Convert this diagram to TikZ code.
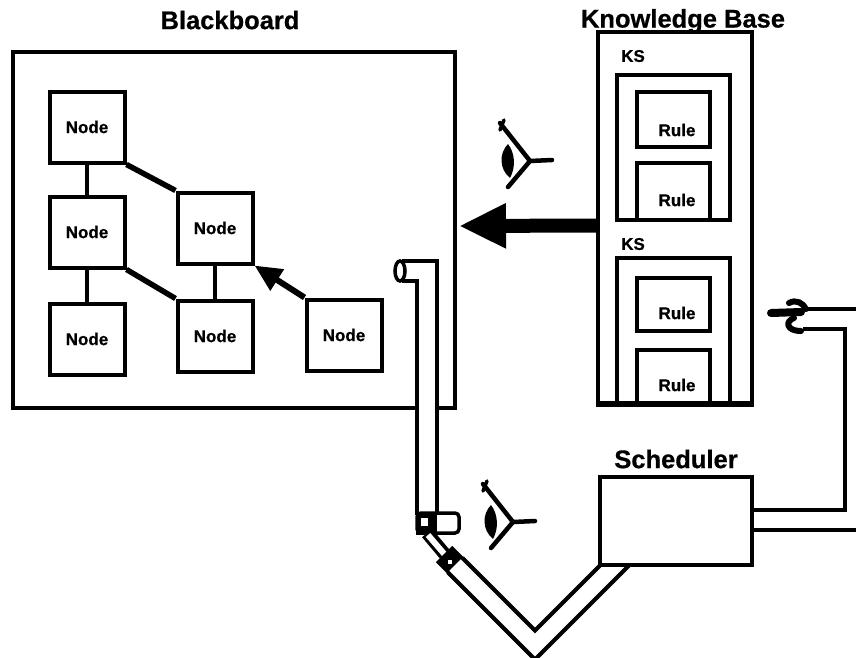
\documentclass[tikz,border=0pt]{standalone}
\usepackage{fontspec}
\setmainfont{Liberation Sans}
\newfontfamily\heavy{Liberation Sans Bold}[FakeBold=0.6]
\usetikzlibrary{arrows.meta,calc}
\begin{document}
\begin{tikzpicture}[x=1pt,y=-1pt,
  box/.style={draw, line width=4pt, fill=white, inner sep=0pt},
  nodebox/.style={box, minimum width=75pt, minimum height=71pt,
    font=\fontsize{17}{17}\selectfont\heavy},
  title/.style={font=\fontsize{25.5}{25.5}\selectfont\heavy},
  smalltext/.style={font=\fontsize{17}{17}\selectfont\heavy},
  link/.style={line width=3.5pt},
  thicklink/.style={line width=5.5pt},
  pipeout/.style={line width=24.5pt, line join=miter},
  pipein/.style={line width=16pt, white, line join=miter},
  eyeglyph/.pic={
    \fill (0,-17) .. controls (-9,-8) and (-9,8) .. (2,17)
          .. controls (8,6) and (7,-8) .. (0,-17) -- cycle;
    \draw[line width=4.5pt, line cap=round, line join=round]
      (-8,-38) -- (22,0) -- (0,26);
    \draw[line width=4.5pt, line cap=round] (22,0) -- (44,-1);
    \draw[line width=3.5pt, line cap=round] (-4,-41) -- (-8,-31);
  },
]
\useasboundingbox (0,0) rectangle (856,657);
\clip (0,0) rectangle (856,657);

% ---------- Blackboard ----------
\node[title] (bblabel) at (230,20) {Blackboard};
\node[box, minimum width=442pt, minimum height=356pt] (bb) at (234,230) {};

\node[nodebox] (n1) at (87,127) {Node};
\node[nodebox] (n2) at (87,232) {Node};
\node[nodebox] (n3) at (87,339) {Node};
\node[nodebox] (n4) at (215,228) {Node};
\node[nodebox] (n5) at (215,336) {Node};
\node[nodebox] (n6) at (344,335) {Node};

\draw[link] (n1.south) -- (n2.north);
\draw[link] (n2.south) -- (n3.north);
\draw[link] (n4.south) -- (n5.north);
\draw[thicklink] (n1.south east) -- (n4.north west);
\draw[thicklink] (n2.south east) -- (n5.north west);
\draw[line width=6pt, -{Triangle[length=27pt,width=24pt]}]
  (n6.north west) -- (n4.south east);

% ---------- Knowledge base ----------
\node[title] (kblabel) at (683,21) {Knowledge Base};
\node[box, minimum width=154pt, minimum height=371pt] (kb) at (675,217.5) {};

\node[smalltext] (ks1t) at (633,56) {KS};
\node[box, minimum width=113pt, minimum height=145pt] (ks1) at (673.5,147.5) {};
\node[box, minimum width=73pt, minimum height=55pt] (r1) at (673.5,119.5) {};
\node[box, minimum width=73pt, minimum height=57pt] (r2) at (673.5,191.5) {};
\node[smalltext] (r1t) at (677,130) {Rule};
\node[smalltext] (r2t) at (677,200) {Rule};

\node[smalltext] (ks2t) at (633,244) {KS};
\node[box, minimum width=113pt, minimum height=145pt] (ks2) at (673.5,330.5) {};
\node[box, minimum width=73pt, minimum height=53pt] (r3) at (673.5,304.5) {};
\node[box, minimum width=73pt, minimum height=53pt] (r4) at (673.5,376.5) {};
\node[smalltext] (r3t) at (677,313) {Rule};
\node[smalltext] (r4t) at (677,385) {Rule};
\draw[box, fill=none] (kb.south west) -- (kb.south east);

% knowledge flowing to the blackboard
\draw[line width=14pt, -{Triangle[length=47pt,width=42pt]}]
  ($(kb.west)+(0,8)$) -- ($(bb.east)+(2,-4)$);

% ---------- watching eyes ----------
\pic at (508,161) {eyeglyph};
\pic at (491,522) {eyeglyph};

% ---------- pipe from blackboard down to the scheduler ----------
\coordinate (hookend) at (402,271);
\coordinate (hookbend) at (427,271);
\coordinate (pipefoot) at (427,515);
\draw[pipeout] (hookend) -- (hookbend) -- (pipefoot);
\draw[pipein] (hookend) -- (hookbend) -- (pipefoot);
\draw[line width=3.5pt, fill=white] (400,271) ellipse [x radius=5, y radius=10];

% sensor at the foot of the pipe
\draw[line width=3.5pt, fill=white, rounded corners=4pt] (417,513) rectangle (459,533);
\fill (415.5,511.5) rectangle (437,534.5);
\fill[white] (421,518) rectangle (428,526);

% narrow neck and collar
\draw[line width=13pt] (427,533) -- (448,558);
\draw[line width=6pt, white] (428,535) -- (446,556);
\draw[line width=23pt] (444,554) -- (459,569);
\fill[white] (448,560) rectangle (452,564);

\coordinate (vstart) at (455,565);
\coordinate (vbottom) at (535,645);
\coordinate (vend) at (630,550);
\draw[pipeout] (vstart) -- (vbottom) -- (vend);
\draw[pipein] (vstart) -- (vbottom) -- (vend);

% ---------- pipe from the scheduler out to the hand ----------
\coordinate (sout) at (745,520);
\coordinate (scorner) at (855,520);
\coordinate (hcorner) at (855,319);
\coordinate (hand) at (803,319);
\draw[pipeout] (sout) -- (scorner) -- (hcorner) -- (hand);
\draw[pipein] (sout) -- (scorner) -- (hcorner) -- (hand);

% pointing hand
\draw[line width=8pt, line cap=round] (771,313) -- (801,312);
\draw[line width=6pt, line cap=round] (789,303) .. controls (796,299) and (803,303) .. (806,309);
\draw[line width=6pt, line cap=round] (794,318) .. controls (785,321) and (786,331) .. (801,331);

% ---------- Scheduler ----------
\node[title] (slabel) at (676,459) {Scheduler};
\node[box, minimum width=152pt, minimum height=88pt] (sched) at (676,521) {};
\end{tikzpicture}
\end{document}
